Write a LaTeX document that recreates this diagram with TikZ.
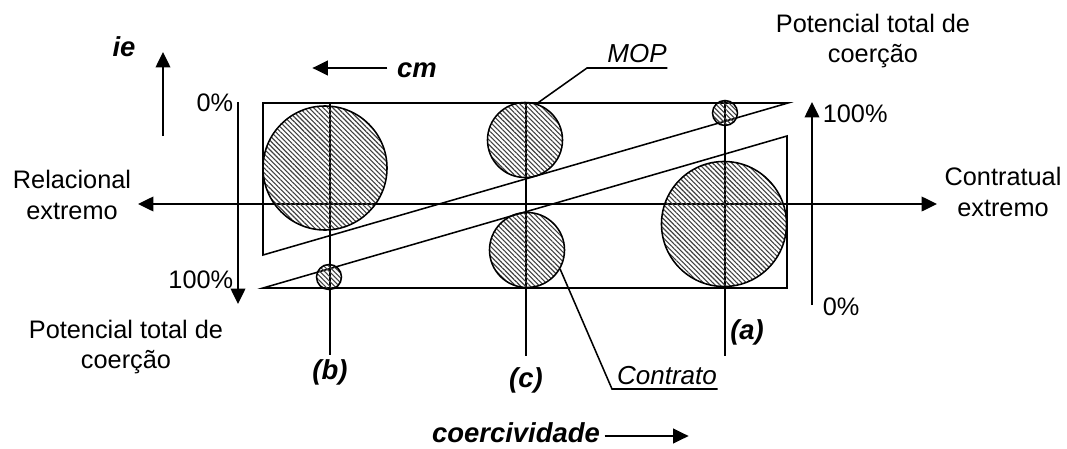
\documentclass[tikz,border=0pt]{standalone}
\usepackage{fontspec}
\setmainfont{Liberation Sans}
\usetikzlibrary{arrows.meta,patterns.meta}

\begin{document}
\begin{tikzpicture}[x=0.025cm, y=-0.025cm, line width=1.1pt, >={Triangle[length=11pt,width=10.5pt]}]
        \tikzset{every node/.style={inner sep=0pt, font=\fontsize{18}{22}\selectfont}}
        \tikzset{blob/.style={circle, draw, line width=1.1pt, pattern={Lines[angle=-45,distance=2.4pt,line width=0.8pt]}, pattern color=black!75}}
        \tikzset{tag/.style={font=\fontsize{19.5}{22}\selectfont\bfseries\itshape}}
        \tikzset{callout/.style={font=\fontsize{18.5}{22}\selectfont\itshape}}
        \useasboundingbox (0,0) rectangle (1067,448);
        % wedges
        \draw (263,103) -- (788,103) -- (263,255) -- cycle;
        \draw (263,288) -- (787,288) -- (787,136) -- cycle;
        % main axis
        \coordinate (west) at (138,204);
        \coordinate (east) at (937,204);
        \draw[<->] (west) -- (east);
        \node[align=center] (rel) at (72,195) {Relacional\\extremo};
        \node[align=center] (con) at (1003,192) {Contratual\\extremo};
        % coercion scales
        \draw[->] (238,102) -- (238,304);
        \node[anchor=east] (l0) at (234,103) {0\%};
        \node[anchor=east] (l100) at (234,280) {100\%};
        \draw[->] (812,305) -- (812,102);
        \node[anchor=west] (r100) at (822,114) {100\%};
        \node[anchor=west] (r0) at (822,307) {0\%};
        \node[align=center] (ptr) at (873,41) {Potencial total de\\coer\c{c}\~ao};
        \node[align=center] (ptl) at (126,347) {Potencial total de\\coer\c{c}\~ao};
        % cases
        \draw (330,102) -- (330,355);
        \draw (526,103) -- (526,356);
        \draw (725,100) -- (725,356);
        \node[tag] (lb) at (330,372) {(b)};
        \node[tag] (lc) at (526,380) {(c)};
        \node[tag] (la) at (747,332) {(a)};
        % circles
        \node[blob, minimum size=3.1cm] (bigl) at (325,168) {};
        \node[blob, minimum size=1.875cm] (ctop) at (525,140) {};
        \node[blob, minimum size=1.875cm] (cbot) at (527,250) {};
        \node[blob, minimum size=0.625cm] (atop) at (725,113) {};
        \node[blob, minimum size=3.125cm] (bigr) at (724,224) {};
        \node[blob, minimum size=0.625cm] (bbot) at (329,277) {};
        % callouts
        \node[callout, anchor=base] (mop) at (637,62) {MOP};
        \node[callout, anchor=base] (ctr) at (667,384) {Contrato};
        \coordinate (mopknee) at (587,68);
        \coordinate (ctrknee) at (612,389);
        \draw (ctop.72) -- (mopknee) -- (mopknee -| mop.east);
        \draw (cbot.-30) -- (ctrknee) -- (ctrknee -| ctr.east);
        % direction arrows
        \node[tag] (ie) at (124,47) {ie};
        \draw[->] (163,136) -- (163,52);
        \node[tag] (cm) at (417,70) {cm};
        \draw[->] (cm.west) ++(-9,-2) -- ++(-75,0);
        \node[tag] (coer) at (516,433) {coercividade};
        \draw[->] (coer.east) ++(4,3) -- ++(84,0);
\end{tikzpicture}
\end{document}
